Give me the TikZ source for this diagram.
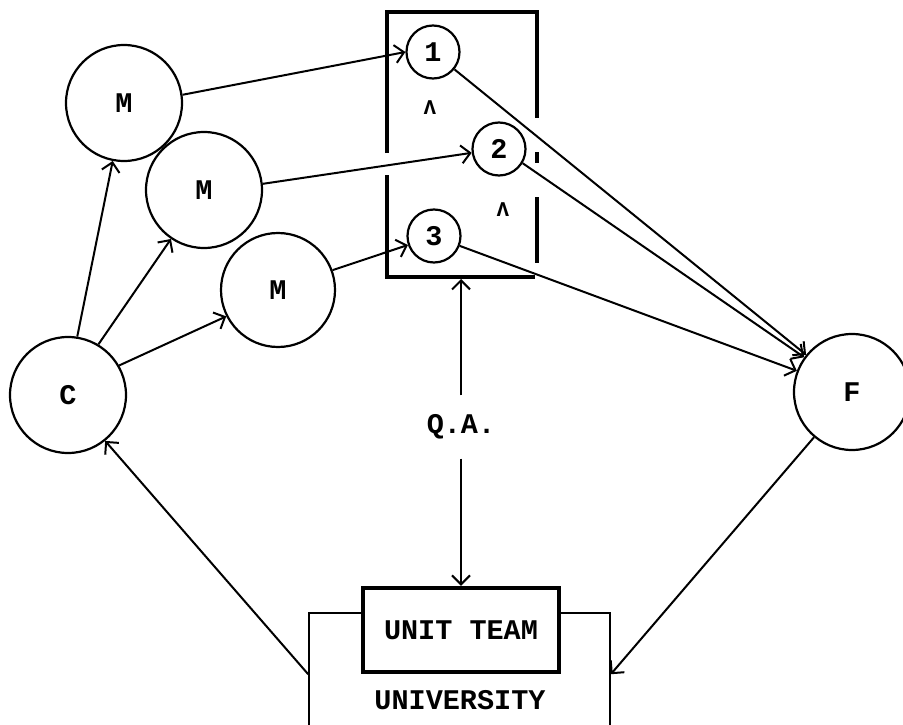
\documentclass[tikz,border=0pt]{standalone}
\usepackage{fontspec}
\setmonofont{Liberation Mono}
\usetikzlibrary{arrows.meta}

\begin{document}
\begin{tikzpicture}[
  x=1pt, y=-1pt,
  font=\ttfamily\bfseries\fontsize{28.5}{30}\selectfont,
  big/.style={draw, circle, line width=2.2pt, minimum size=116pt, inner sep=0pt},
  small/.style={draw, circle, line width=2.2pt, minimum size=53pt, inner sep=0pt},
  frame/.style={line width=4.5pt},
  arr/.style={-{Straight Barb[length=9pt,width=18pt]}, line width=2pt},
  lam/.style={font=\ttfamily\bfseries\fontsize{21}{22}\selectfont}
]
\useasboundingbox[fill=white] (0,0) rectangle (903,725);
\node[big] (c) at (68,395) {C};
\node[big] (m1) at (124,103) {M};
\node[big] (m2) at (204,190) {M};
\node[big, minimum size=114pt] (m3) at (278,290) {M};
\node[small] (n1) at (433,52) {1};
\node[small] (n2) at (499,149) {2};
\node[small] (n3) at (434,236) {3};
\node[big] (f) at (852,392) {F};
\node[lam] (lam1) at (430,108) {Λ};
\node[lam] (lam2) at (503,210) {Λ};
\node[inner sep=19pt] (qa) at (461,427) {Q.A.};
\node[draw, line width=1.6pt, minimum width=301pt, minimum height=147pt] (univ) at (459.5,686.5) {};
\node (univlabel) at (460,700) {UNIVERSITY};
\node[draw, fill=white, line width=4.5pt, minimum width=196pt, minimum height=84pt] (team) at (461,630) {UNIT TEAM};
\coordinate (brk) at (461,279);
\draw[frame] (387,153) -- (387,12) -- (537,12) -- (537,118);
\draw[frame] (537,152) -- (537,163);
\draw[frame] (537,197) -- (537,263);
\draw[frame] (387,175) -- (387,277) -- (535,277);
\draw[arr] (c.81) -- (m1.259);
\draw[arr] (c.59) -- (m2.236);
\draw[arr] (c.30) -- (m3.207);
\draw[arr] (m1.8) -- (n1.180);
\draw[arr] (m2.6) -- (n2.188);
\draw[arr] (m3.20) -- (n3.199);
\draw[arr] (n1.-39) -- (f.141);
\draw[arr] (n2.-31) -- (f.144);
\draw[arr] (n3.-21) -- (f.159);
\draw[arr] (qa.north) -- (brk);
\draw[arr] (qa.south) -- (team.north);
\draw[arr] (f.230) -- (univ.east |- team.south);
\draw[arr] (univ.west |- team.south) -- (c.-51);
\end{tikzpicture}
\end{document}
